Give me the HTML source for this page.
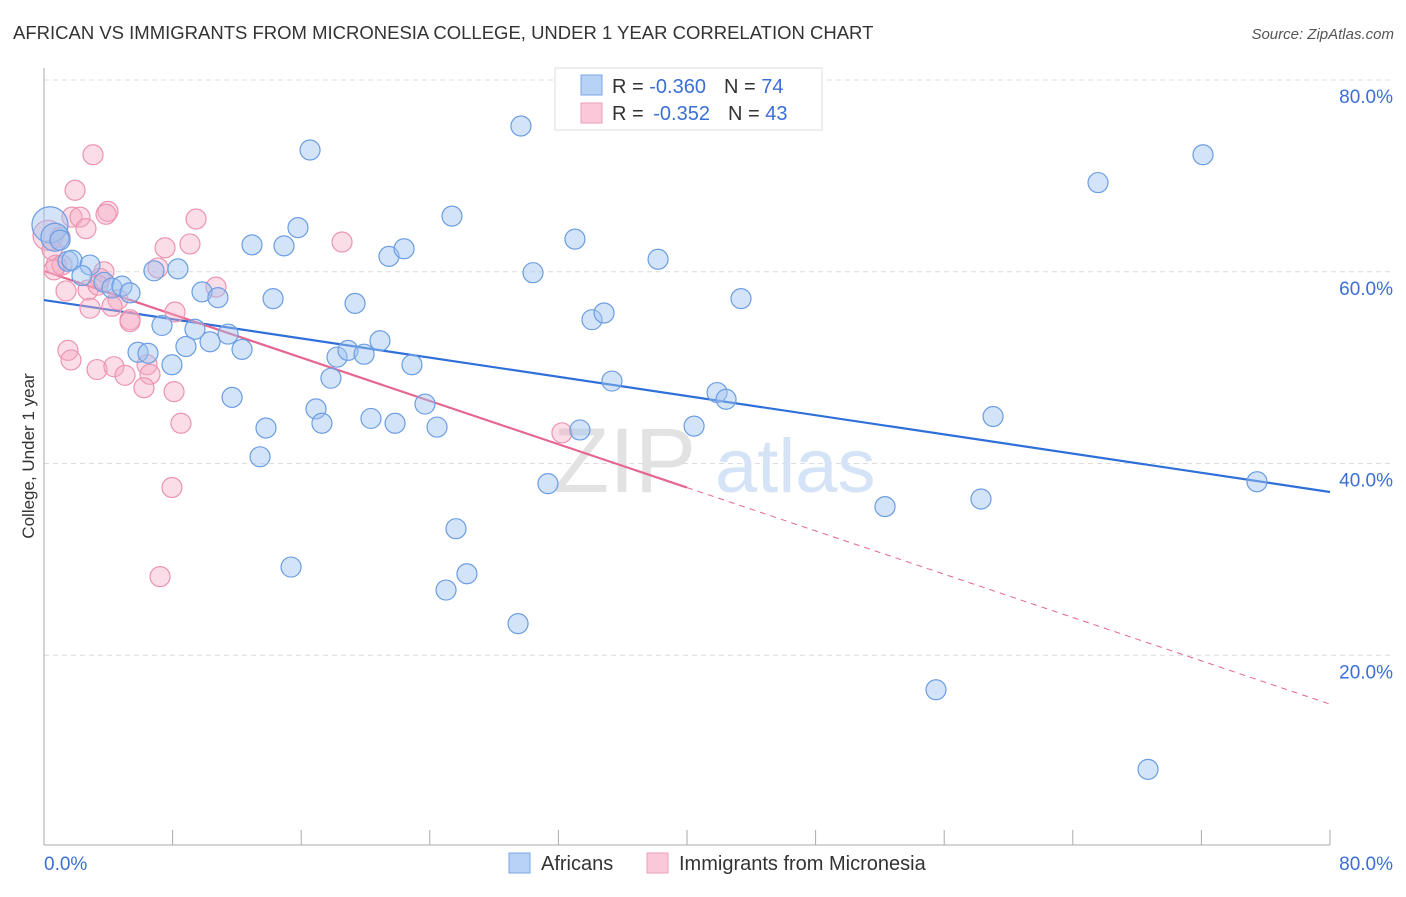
<!DOCTYPE html>
<html><head><meta charset="utf-8">
<style>
body{margin:0;background:#fff;font-family:"Liberation Sans",sans-serif;}
svg text{font-family:"Liberation Sans",sans-serif;}
</style></head>
<body>
<svg id="chart" width="1406" height="892" xmlns="http://www.w3.org/2000/svg">
<text x="13" y="39" font-size="18.5" fill="#333">AFRICAN VS IMMIGRANTS FROM MICRONESIA COLLEGE, UNDER 1 YEAR CORRELATION CHART</text>
<text x="1394" y="39" font-size="15" fill="#555" font-style="italic" text-anchor="end">Source: ZipAtlas.com</text>
<g id="grid"></g>
<g>
<text x="553" y="492" font-size="92" fill="#e2e2e2" font-family="Liberation Serif">ZIP</text>
<text x="715" y="492" font-size="76" fill="#d4e3f5">atlas</text>
</g>
<g id="axes"></g>
<g id="trends"></g>
<g id="points"></g>
<text transform="translate(34,456) rotate(-90)" font-size="17" fill="#333" text-anchor="middle">College, Under 1 year</text>
<g>
<rect x="555" y="68" width="267" height="62" fill="#fff" stroke="#ddd"/>
<rect x="581" y="75" width="21" height="20" fill="#b8d2f5" stroke="#7aa6e3"/>
<rect x="581" y="103" width="21" height="20" fill="#fac8d8" stroke="#ee9fba"/>
<text x="612" y="93" font-size="20" fill="#333">R = <tspan fill="#3b6fd6">-0.360</tspan><tspan dx="18">N = </tspan><tspan fill="#3b6fd6">74</tspan></text>
<text x="612" y="120" font-size="20" fill="#333">R = <tspan dx="4" fill="#3b6fd6">-0.352</tspan><tspan dx="18">N = </tspan><tspan fill="#3b6fd6">43</tspan></text>
</g>
<g>
<rect x="509" y="853" width="21" height="20" fill="#b8d2f5" stroke="#7aa6e3"/>
<text x="541" y="870" font-size="20" fill="#333">Africans</text>
<rect x="647" y="853" width="21" height="20" fill="#fac8d8" stroke="#ee9fba"/>
<text x="679" y="870" font-size="20" fill="#333">Immigrants from Micronesia</text>
</g>
</svg>
<script>
const xTicks=[0,10,20,30,40,50,60,70,80];
const yTicks=[20,40,60,80];
const blueX=[0.37,0.68,1.0,1.49,1.74,2.86,2.36,3.73,4.23,4.85,5.35,6.84,8.33,7.34,5.85,6.47,7.96,8.83,9.39,9.83,10.82,10.33,11.45,12.32,11.7,12.94,13.81,13.44,14.93,14.25,15.8,16.55,16.92,17.29,15.37,17.85,18.23,18.91,19.35,19.91,20.34,20.9,21.46,21.84,22.4,22.89,23.7,24.45,25.38,25.63,25.01,26.31,29.49,29.67,30.42,31.35,33.03,33.34,34.09,34.84,35.33,38.2,40.44,41.87,42.43,43.36,52.32,55.49,58.29,59.04,65.57,68.68,72.1,75.46];
const blueY=[64.9,63.6,63.3,61.1,61.2,60.7,59.6,58.9,58.3,58.5,57.8,60.1,60.3,54.4,51.6,51.5,50.3,52.2,54.0,57.9,57.3,52.7,53.5,51.9,46.9,62.8,43.7,40.7,62.7,57.2,64.6,72.7,45.7,44.2,29.2,48.9,51.1,51.8,56.7,51.4,44.7,52.8,61.6,44.2,62.4,50.3,46.2,43.8,65.8,33.2,26.8,28.5,23.3,75.2,59.9,37.9,63.4,43.5,55.0,55.7,48.6,61.3,43.9,47.4,46.7,57.2,35.5,16.4,36.3,44.9,69.3,8.1,72.2,38.1];
const pinkX=[0.25,1.0,0.5,0.75,1.37,1.93,3.05,1.74,2.24,2.61,3.98,3.86,3.73,3.48,2.74,4.6,2.86,5.35,5.35,1.49,1.68,3.3,4.35,5.04,6.41,6.59,6.22,8.09,8.52,7.96,7.22,7.53,9.08,9.46,7.09,8.15,10.7,18.54,32.22,1.12,3.36,0.62,4.23];
const pinkY=[63.8,63.6,62.3,60.7,58.0,68.5,72.2,65.7,65.7,64.5,66.3,66.0,60.0,59.3,58.1,57.1,56.2,55.0,54.8,51.8,50.8,49.8,50.1,49.2,50.3,49.3,47.9,47.5,44.2,37.5,28.2,62.5,62.9,65.5,60.4,55.8,58.4,63.1,43.2,60.7,58.6,60.2,56.4];
const blueTrend=[57.05,37.03];
const pinkTrend=[60.08,14.9];
const pinkSolidEnd=40;
const NS='http://www.w3.org/2000/svg';
function sx(v){return 44+v*16.075;}
function sy(v){return 847-v*9.5875;}
function mk(t,a,p){const e=document.createElementNS(NS,t);for(const k in a)e.setAttribute(k,a[k]);p.appendChild(e);return e;}
const grid=document.getElementById('grid'),axes=document.getElementById('axes'),trends=document.getElementById('trends'),pts=document.getElementById('points');
yTicks.forEach(v=>{
 const l=mk('line',{x1:44,x2:1393,y1:sy(v),y2:sy(v),stroke:'#dcdcdc','stroke-dasharray':'5,4'},grid);
 
 
 const t=mk('text',{x:1393,y:sy(v)+23,'font-size':19,fill:'#3b6fd6','text-anchor':'end'},axes);
 t.textContent=v.toFixed(1)+'%';
 
 
});
mk('line',{x1:44,x2:44,y1:68,y2:845,stroke:'#aaa'},axes);
mk('line',{x1:44,x2:1330,y1:845,y2:845,stroke:'#aaa'},axes);
for(let i=0;i<=10;i++){const v=i*8;mk('line',{x1:sx(v),x2:sx(v),y1:830,y2:845,stroke:'#aaa'},axes);}
[[0,'start'],[80,'end']].forEach(([v,a])=>{
 const t=mk('text',{x:v===0?44:1393,y:870,'font-size':19,fill:'#3b6fd6','text-anchor':a},axes);
 t.textContent=v.toFixed(1)+'%';
 
 
});
function tline(tr,x1,x2,col,dash,w){const y=x=>tr[0]+(tr[1]-tr[0])*x/80;const a={x1:sx(x1),x2:sx(x2),y1:sy(y(x1)),y2:sy(y(x2)),stroke:col,'stroke-width':w};if(dash)a['stroke-dasharray']=dash;return mk('line',a,trends);}
let l1=tline(blueTrend,0,80,'#2f6fd8',null,2.2);


let l2=tline(pinkTrend,0,pinkSolidEnd,'#e5668f',null,2.2);


let l3=tline(pinkTrend,pinkSolidEnd,80,'#e5668f','6,5',1);


pinkX.forEach((x,i)=>{
 const c=mk('circle',{cx:sx(x),cy:sy(pinkY[i]),r:i===0?15:10,fill:'rgba(246,170,196,0.4)',stroke:'#ec93b1','stroke-width':1.2},pts);
 
 
});
blueX.forEach((x,i)=>{
 const c=mk('circle',{cx:sx(x),cy:sy(blueY[i]),r:i===0?18:(i===1?14:10),fill:'rgba(160,196,240,0.45)',stroke:'#6a9de2','stroke-width':1.2},pts);
 
 
});
</script>
</body></html>
